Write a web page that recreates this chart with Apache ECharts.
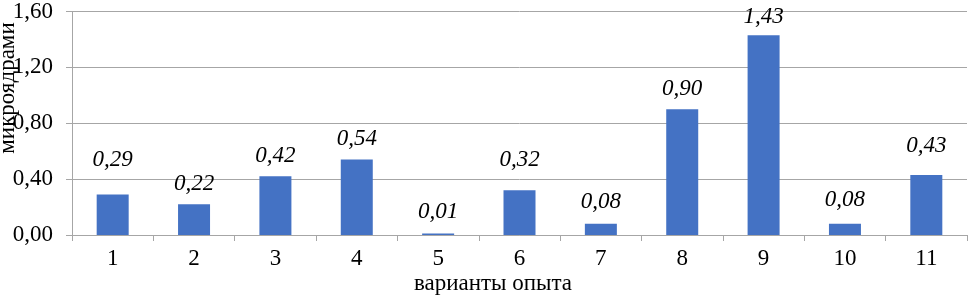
<!DOCTYPE html>
<html>
<head>
<meta charset="utf-8">
<script src="https://cdn.jsdelivr.net/npm/echarts@6/dist/echarts.min.js"></script>
<style>
  html, body { margin: 0; padding: 0; background: #fff; }
  #main { width: 968px; height: 296px; }
</style>
</head>
<body>
<div id="main"></div>
<script>
// chart data
const categories = ['1', '2', '3', '4', '5', '6', '7', '8', '9', '10', '11'];
const values = [0.29, 0.22, 0.42, 0.54, 0.01, 0.32, 0.08, 0.90, 1.43, 0.08, 0.43];
const yTicks = [0, 0.4, 0.8, 1.2, 1.6];

// extra lift of each value label above its bar (px), as placed in the original
const labelLift = [14, 0, 0, 0, 1, 10, 1, 0, -2, 3, 8];

const serif = '"Liberation Serif", "DejaVu Serif", serif';
const barColor = '#4472C4';
const gridColor = '#A6A6A6';
const fontSize = 23;

function fmt(v) {
    return v.toFixed(2).replace('.', ',');
}

var chartDom = document.getElementById('main');
var myChart = echarts.init(chartDom, null, { renderer: 'canvas' });

var option = {
    animation: false,
    grid: { left: 72, right: 1, top: 9, bottom: 61, containLabel: false },
    xAxis: {
        type: 'category',
        data: categories,
        axisLine: { show: true, lineStyle: { color: gridColor, width: 1 } },
        axisTick: { show: true, length: 6, lineStyle: { color: gridColor } },
        axisLabel: { color: '#000', fontFamily: serif, fontSize: fontSize, margin: 12 }
    },
    yAxis: {
        type: 'value',
        min: yTicks[0],
        max: yTicks[yTicks.length - 1],
        interval: 0.4,
        axisLine: { show: true, lineStyle: { color: gridColor, width: 1 } },
        axisTick: { show: true, length: 6, lineStyle: { color: gridColor } },
        splitLine: { show: true, lineStyle: { color: gridColor, width: 1 } },
        axisLabel: {
            color: '#000', fontFamily: serif, fontSize: fontSize, margin: 19,
            formatter: v => fmt(v)
        }
    },
    graphic: [
        {
            type: 'text',
            x: 8, y: 88,
            rotation: Math.PI / 2,
            style: {
                text: 'микроядрами',
                font: fontSize + 'px ' + serif,
                fill: '#000',
                textAlign: 'center',
                textVerticalAlign: 'middle'
            }
        },
        {
            type: 'text',
            x: 493, y: 284,
            style: {
                text: 'варианты опыта',
                font: fontSize + 'px ' + serif,
                fill: '#000',
                textAlign: 'center',
                textVerticalAlign: 'middle'
            }
        }
    ],
    series: [{
        type: 'bar',
        barWidth: 32,
        itemStyle: { color: barColor },
        data: values.map((v, i) => ({
            value: v,
            label: { distance: 9 + labelLift[i] }
        })),
        label: {
            show: true,
            position: 'top',
            color: '#000',
            fontFamily: serif,
            fontStyle: 'italic',
            fontSize: fontSize,
            formatter: p => fmt(p.value)
        }
    }]
};
option && myChart.setOption(option);
</script>
</body>
</html>
